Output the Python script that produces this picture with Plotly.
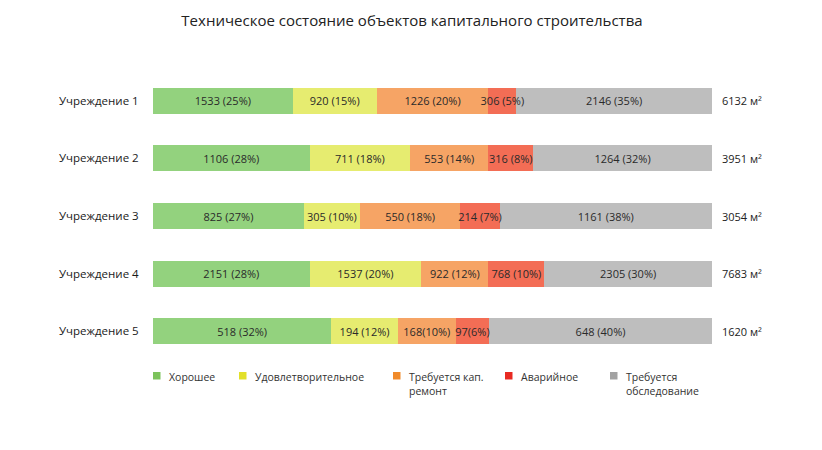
import plotly.graph_objects as go

categories = ["Учреждение 1", "Учреждение 2", "Учреждение 3", "Учреждение 4", "Учреждение 5"]
series_names = ["Хорошее", "Удовлетворительное", "Требуется кап.<br>ремонт", "Аварийное", "Требуется<br>обследование"]
good = [1533, 1106, 825, 2151, 518]
satisfactory = [920, 711, 305, 1537, 194]
capital_repair = [1226, 553, 550, 922, 168]
emergency = [306, 316, 214, 768, 97]
inspection = [2146, 1264, 1161, 2305, 648]
totals = [6132, 3951, 3054, 7683, 1620]
series_values = [good, satisfactory, capital_repair, emergency, inspection]

bar_colors = ["#93d27e", "#e6ec70", "#f6a465", "#f36d55", "#bebebe"]
legend_colors = ["#7cc35c", "#e2e02a", "#f08a2a", "#e82a22", "#a2a2a2"]

# page offset (default body margin) and plot area in page pixels
OFF = 8
W, H = 822 - OFF, 450 - OFF
L, R, T, B = 153 - OFF, 712 - OFF, 72 - OFF, 360 - OFF


def px_x(p):
    return (p - OFF - L) / (R - L)


def px_y(p):
    return (B - (p - OFF)) / (B - T)


fig = go.Figure()
for name, vals, bc in zip(series_names, series_values, bar_colors):
    fig.add_trace(go.Bar(
        y=categories, x=vals, orientation="h", marker=dict(color=bc, line=dict(width=0)),
        showlegend=False, hoverinfo="skip",
    ))

# label layer on an overlaid axis so labels are never covered by neighbouring bars
for name, vals in zip(series_names, series_values):
    texts = []
    for i, v in enumerate(vals):
        row_sum = sum(s[i] for s in series_values)
        pct = round(100 * v / row_sum)
        sep = "" if (i == 4 and v < 180) else " "
        texts.append(f"{v}{sep}({pct}%)")
    fig.add_trace(go.Bar(
        y=categories, x=vals, orientation="h", xaxis="x2", yaxis="y2",
        marker=dict(color="rgba(0,0,0,0)", line=dict(width=0)),
        text=texts, textposition="inside", insidetextanchor="middle",
        constraintext="none", textfont=dict(size=11, color="#2a2a2a"),
        showlegend=False, hoverinfo="skip", cliponaxis=False,
    ))

for cat, tot in zip(categories, totals):
    fig.add_annotation(x=1, xref="paper", y=cat, yref="y", text=f"{tot} м²",
                       showarrow=False, xanchor="left", xshift=8,
                       font=dict(size=11, color="#222"))

# manual legend (page pixel positions of the swatches)
legend_sq_x = [153, 239, 393, 505, 610]
for name, lc, sx in zip(series_names, legend_colors, legend_sq_x):
    fig.add_shape(type="rect", xref="paper", yref="paper",
                  x0=px_x(sx), x1=px_x(sx + 7.5), y0=px_y(379.5), y1=px_y(372),
                  fillcolor=lc, line=dict(width=0))
    fig.add_annotation(xref="paper", yref="paper", x=px_x(sx + 14), y=px_y(368),
                       text=name, showarrow=False, xanchor="left", yanchor="top",
                       align="left", font=dict(size=10.5, color="#333"))

fig.update_layout(
    width=W, height=H,
    barmode="stack", barnorm="percent", bargap=0.55,
    paper_bgcolor="white", plot_bgcolor="white",
    font=dict(family="Open Sans, Noto Sans, sans-serif", size=11, color="#222"),
    title=dict(text="Техническое состояние объектов капитального строительства",
               x=(412 - OFF) / W, xref="container", xanchor="center",
               y=1 - (21 - OFF) / H, yanchor="middle",
               font=dict(size=15, color="#222")),
    margin=dict(l=L, r=W - R, t=T, b=H - B),
    showlegend=False,
    xaxis=dict(visible=False, range=[0, 100], fixedrange=True),
    xaxis2=dict(visible=False, range=[0, 100.001], overlaying="x", fixedrange=True),
    yaxis=dict(autorange="reversed", showgrid=False, zeroline=False, showline=False,
               ticks="outside", ticklen=11, tickcolor="rgba(0,0,0,0)", automargin=False,
               tickfont=dict(size=11.5, color="#1a1a1a")),
    yaxis2=dict(autorange="reversed", overlaying="y", visible=False, automargin=False),
)

fig.write_html("out.html")
